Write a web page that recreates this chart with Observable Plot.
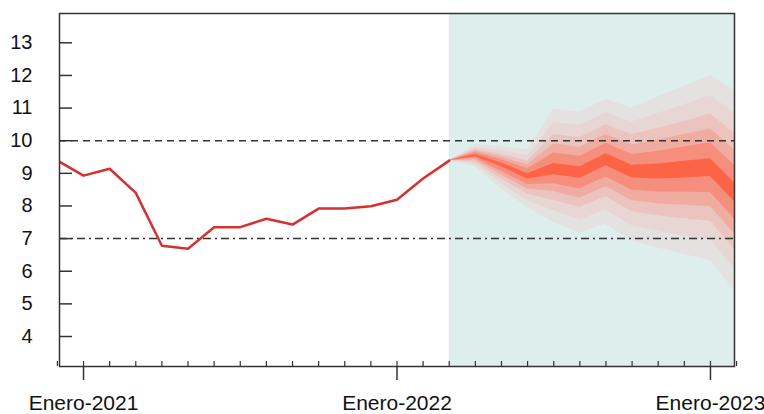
<!DOCTYPE html>
<html><head><meta charset="utf-8">
<script src="https://cdn.jsdelivr.net/npm/d3@7"></script>
<script src="https://cdn.jsdelivr.net/npm/@observablehq/plot@0.6"></script>
<style>html,body{margin:0;padding:0;background:#fff;} #chart svg{display:block;}</style>
</head><body><div id="chart"></div>
<script>
// Historical series (monthly)
const histMonths = ["2020-12","2021-01","2021-02","2021-03","2021-04","2021-05","2021-06","2021-07","2021-08","2021-09","2021-10","2021-11","2021-12","2022-01","2022-02","2022-03"];
const histValues = [9.39, 8.93, 9.14, 8.40, 6.78, 6.69, 7.35, 7.35, 7.61, 7.43, 7.92, 7.92, 7.99, 8.19, 8.84, 9.39];

// Fan chart (forecast) months and band limits, level 1 = outermost
const fanMonths = ["2022-03","2022-04","2022-05","2022-06","2022-07","2022-08","2022-09","2022-10","2022-11","2022-12","2023-01","2023-02"];
const upper1 = [9.39, 9.88, 9.81, 9.72, 10.97, 10.88, 11.26, 11.00, 11.34, 11.66, 12.00, 11.50];
const lower1 = [9.39, 9.20, 8.51, 7.95, 7.49, 7.17, 7.45, 6.92, 6.71, 6.51, 6.33, 5.33];
const upper2 = [9.39, 9.81, 9.69, 9.54, 10.56, 10.47, 10.86, 10.57, 10.84, 11.10, 11.38, 10.81];
const lower2 = [9.39, 9.28, 8.68, 8.16, 7.85, 7.58, 7.88, 7.39, 7.23, 7.08, 6.96, 6.01];
const upper3 = [9.39, 9.74, 9.58, 9.38, 10.19, 10.10, 10.49, 10.19, 10.38, 10.59, 10.82, 10.18];
const lower3 = [9.39, 9.35, 8.83, 8.36, 8.17, 7.95, 8.28, 7.82, 7.70, 7.61, 7.53, 6.60];
const upper4 = [9.39, 9.69, 9.50, 9.26, 9.90, 9.80, 10.19, 9.87, 10.02, 10.19, 10.36, 9.67];
const lower4 = [9.39, 9.40, 8.95, 8.51, 8.44, 8.24, 8.59, 8.16, 8.07, 8.02, 7.98, 7.08];
const upper5 = [9.39, 9.64, 9.42, 9.14, 9.62, 9.52, 9.92, 9.58, 9.68, 9.81, 9.94, 9.20];
const lower5 = [9.39, 9.46, 9.06, 8.66, 8.68, 8.52, 8.89, 8.48, 8.43, 8.42, 8.41, 7.53];
const upper6 = [9.39, 9.58, 9.32, 8.99, 9.30, 9.20, 9.60, 9.25, 9.29, 9.37, 9.45, 8.65];
const lower6 = [9.39, 9.51, 9.20, 8.83, 8.96, 8.85, 9.23, 8.86, 8.83, 8.86, 8.90, 8.06];

// Reference lines
const targetUpper = [10];
const targetLower = [7];

// Axis ticks
const yTicks = [4, 5, 6, 7, 8, 9, 10, 11, 12, 13];
const majorTickMonths = ["2021-01", "2022-01", "2023-01"];
const majorTickLabels = ["Enero-2021", "Enero-2022", "Enero-2023"];

// month string -> month index (Jan 2021 = 0)
const mIndex = s => { const [y, m] = s.split("-").map(Number); return (y - 2021) * 12 + (m - 1); };

const histRows = histMonths.map((m, i) => ({x: mIndex(m), y: histValues[i]}));
const uppers = [upper1, upper2, upper3, upper4, upper5, upper6];
const lowers = [lower1, lower2, lower3, lower4, lower5, lower6];
const fanColors = ["#e4e1e1", "#e8d6d5", "#ecc4bf", "#f1aca2", "#f68e7d", "#fd6446"];
const bandRows = uppers.map((u, k) => fanMonths.map((m, i) => ({x: mIndex(m), lo: lowers[k][i], hi: u[i]})));

const allMonthTicks = d3.range(-1, 26);
const majorIdx = majorTickMonths.map(mIndex);
const labelOf = new Map(majorIdx.map((v, i) => [v, majorTickLabels[i]]));
const shadeRows = [{x1: mIndex(fanMonths[0]), x2: mIndex(fanMonths[fanMonths.length - 1])}];

const chart = Plot.plot({
  width: 764,
  height: 414,
  marginLeft: 59,
  marginRight: 30,
  marginTop: 13,
  marginBottom: 48,
  style: {fontFamily: "'Liberation Sans', Arial, sans-serif", fontSize: "20px", color: "#111", background: "#fff"},
  x: {type: "linear", domain: [-0.92, 24.92]},
  y: {domain: [3.081, 13.898]},
  marks: [
    Plot.rect(shadeRows, {x1: "x1", x2: "x2", fill: "#deeeed", clip: true}),
    ...bandRows.map((rows, k) => Plot.areaY(rows, {x: "x", y1: "lo", y2: "hi", fill: fanColors[k], clip: true})),
    Plot.ruleY(targetUpper, {stroke: "#333", strokeWidth: 1.5, strokeDasharray: "7,5"}),
    Plot.ruleY(targetLower, {stroke: "#333", strokeWidth: 1.5, strokeDasharray: "8,4,2,4"}),
    Plot.line(histRows, {x: "x", y: "y", stroke: "#d43131", strokeWidth: 2.5, clip: true}),
    Plot.axisY(yTicks, {tickSize: 0, tickPadding: 27, fontSize: 20, label: null}),
    Plot.axisY(yTicks, {tickSize: -13, fill: "none", stroke: "#333", strokeWidth: 1.5, label: null}),
    Plot.axisX(allMonthTicks, {tickSize: -5, fill: "none", stroke: "#333", strokeWidth: 1.2, label: null}),
    Plot.axisX(majorIdx, {tickSize: 14, tickPadding: 15, stroke: "#333", strokeWidth: 1.5, fontSize: 21, tickFormat: d => labelOf.get(d), label: null}),
    Plot.frame({stroke: "#333", strokeWidth: 1.5})
  ]
});
document.getElementById("chart").appendChild(chart);
</script>
</body></html>
